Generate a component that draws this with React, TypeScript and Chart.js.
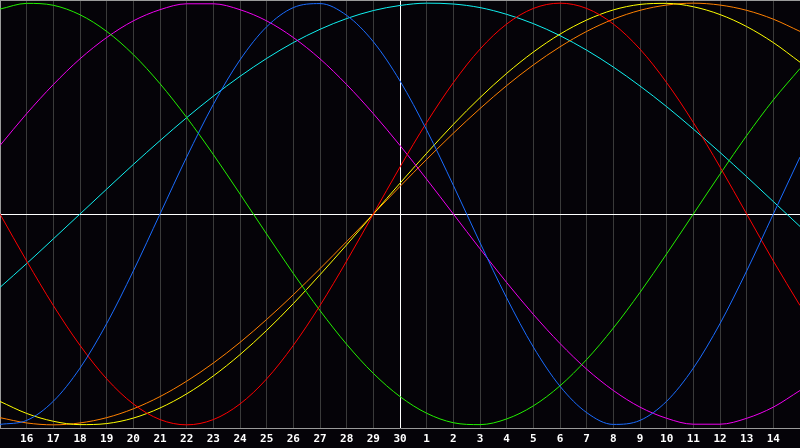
import React, { useEffect, useRef } from "react";
import { Chart, registerables } from "chart.js";

Chart.register(...registerables);

// Days shown: 15 (prev month) .. 30 (today, centre) .. 15 (next month)
const dayLabels = [
  "15", "16", "17", "18", "19", "20", "21", "22", "23", "24", "25", "26", "27", "28", "29", "30",
  "1", "2", "3", "4", "5", "6", "7", "8", "9", "10", "11", "12", "13", "14", "15",
];

// Biorhythm cycles (values -1..1 at each day)
const physical23 = [
  -0.998, -0.979, -0.888, -0.731, -0.52, -0.27, 0.0, 0.27, 0.52, 0.731, 0.888, 0.979, 0.998, 0.942, 0.817, 0.631,
  0.398, 0.136, -0.136, -0.398, -0.631, -0.817, -0.942, -0.998, -0.979, -0.888, -0.731, -0.52, -0.27, 0.0, 0.27,
];
const emotional28 = [
  0.0, -0.223, -0.434, -0.623, -0.782, -0.901, -0.975, -1.0, -0.975, -0.901, -0.782, -0.623, -0.434, -0.223, 0.0, 0.223,
  0.434, 0.623, 0.782, 0.901, 0.975, 1.0, 0.975, 0.901, 0.782, 0.623, 0.434, 0.223, 0.0, -0.223, -0.434,
];
const intellectual33 = [
  0.972, 0.999, 0.99, 0.945, 0.866, 0.756, 0.618, 0.458, 0.282, 0.095, -0.095, -0.282, -0.458, -0.618, -0.756, -0.866,
  -0.945, -0.99, -0.999, -0.972, -0.91, -0.815, -0.69, -0.541, -0.372, -0.189, 0.0, 0.189, 0.372, 0.541, 0.69,
];
const intuitive38 = [
  0.325, 0.476, 0.614, 0.736, 0.837, 0.916, 0.969, 0.997, 0.997, 0.969, 0.916, 0.837, 0.736, 0.614, 0.476, 0.325,
  0.165, 0.0, -0.165, -0.325, -0.476, -0.614, -0.736, -0.837, -0.916, -0.969, -0.997, -0.997, -0.969, -0.916, -0.837,
];
const aesthetic43 = [
  -0.889, -0.946, -0.983, -0.999, -0.994, -0.968, -0.92, -0.853, -0.768, -0.667, -0.552, -0.425, -0.288, -0.146, 0.0, 0.146,
  0.288, 0.425, 0.552, 0.667, 0.768, 0.853, 0.92, 0.968, 0.994, 0.999, 0.983, 0.946, 0.889, 0.813, 0.72,
];
const awareness48 = [
  -0.966, -0.991, -1.0, -0.991, -0.966, -0.924, -0.866, -0.793, -0.707, -0.609, -0.5, -0.383, -0.259, -0.131, 0.0, 0.131,
  0.259, 0.383, 0.5, 0.609, 0.707, 0.793, 0.866, 0.924, 0.966, 0.991, 1.0, 0.991, 0.966, 0.924, 0.866,
];
const spiritual53 = [
  -0.348, -0.235, -0.118, 0.0, 0.118, 0.235, 0.348, 0.457, 0.559, 0.653, 0.738, 0.813, 0.876, 0.927, 0.965, 0.989,
  1.0, 0.996, 0.979, 0.947, 0.903, 0.846, 0.777, 0.697, 0.607, 0.509, 0.403, 0.292, 0.177, 0.059, -0.059,
];

const seriesNames = ["Physical", "Emotional", "Intellectual", "Intuitive", "Aesthetic", "Awareness", "Spiritual"];
const seriesColors = ["#1a6cff", "#ff0000", "#22f000", "#f000f0", "#ffff00", "#ff8000", "#10f0f0"];

const BG = "#050308";
const GRID = "#3a3a3a";
const BORDER = "#9a9a9a";
const TODAY_INDEX = 15;
const Y_LIMIT = 1.015;

export default function App() {
  const canvasRef = useRef<HTMLCanvasElement | null>(null);

  useEffect(() => {
    document.body.style.margin = "0";
    document.body.style.background = BG;
    const canvas = canvasRef.current;
    if (!canvas) return;

    const allSeries = [physical23, emotional28, intellectual33, intuitive38, aesthetic43, awareness48, spiritual53];

    const bgPlugin = {
      id: "bgFill",
      beforeDraw(chart: any) {
        const c = chart.ctx;
        c.save();
        c.fillStyle = BG;
        c.fillRect(0, 0, chart.width, chart.height);
        c.restore();
      },
    };

    const chart = new Chart(canvas, {
      type: "line",
      data: {
        labels: dayLabels,
        datasets: allSeries.map((d, i) => ({
          label: seriesNames[i],
          data: d,
          borderColor: seriesColors[i],
          backgroundColor: seriesColors[i],
          borderWidth: 1,
          pointRadius: 0,
          pointHoverRadius: 0,
          cubicInterpolationMode: "monotone",
          fill: false,
        })),
      },
      options: {
        responsive: false,
        animation: false,
        devicePixelRatio: 1,
        events: [],
        layout: { padding: 0 },
        plugins: {
          legend: { display: false },
          tooltip: { enabled: false },
          title: { display: false },
        },
        scales: {
          x: {
            type: "category",
            offset: false,
            grid: {
              drawTicks: false,
              lineWidth: 1,
              color: (ctx: any) => {
                const idx = ctx.index;
                if (idx === TODAY_INDEX) return "#ffffff";
                if (idx === 0 || idx === dayLabels.length - 1) return "rgba(0,0,0,0)";
                return GRID;
              },
            },
            border: { display: true, color: BORDER, width: 1 },
            ticks: {
              autoSkip: false,
              maxRotation: 0,
              minRotation: 0,
              padding: 5,
              color: "#ffffff",
              font: { family: "'DejaVu Sans Mono', monospace", size: 11, weight: "bold" },
              callback: (_v: any, idx: number) =>
                idx === 0 || idx === dayLabels.length - 1 ? "" : dayLabels[idx],
            },
            afterFit: (scale: any) => {
              scale.height = 20;
              scale.paddingLeft = 0;
              scale.paddingRight = 0;
            },
          },
          y: {
            type: "linear",
            min: -Y_LIMIT,
            max: Y_LIMIT,
            grid: {
              drawTicks: false,
              lineWidth: 1,
              color: (ctx: any) => {
                const v = ctx.tick ? ctx.tick.value : 0;
                if (Math.abs(v) < 1e-6) return "#ffffff";
                if (v > Y_LIMIT - 1e-3) return BORDER;
                return "rgba(0,0,0,0)";
              },
            },
            border: { display: true, color: BORDER, width: 1 },
            ticks: { display: false, stepSize: Y_LIMIT },
            afterFit: (scale: any) => {
              scale.width = 0;
              scale.paddingTop = 0;
              scale.paddingBottom = 0;
            },
          },
        },
      },
      plugins: [bgPlugin],
    } as any);

    return () => {
      chart.destroy();
    };
  }, []);

  return (
    <div style={{ width: 800, height: 448, background: BG }}>
      <canvas ref={canvasRef} width={800} height={448} style={{ display: "block", width: 800, height: 448 }} />
    </div>
  );
}
